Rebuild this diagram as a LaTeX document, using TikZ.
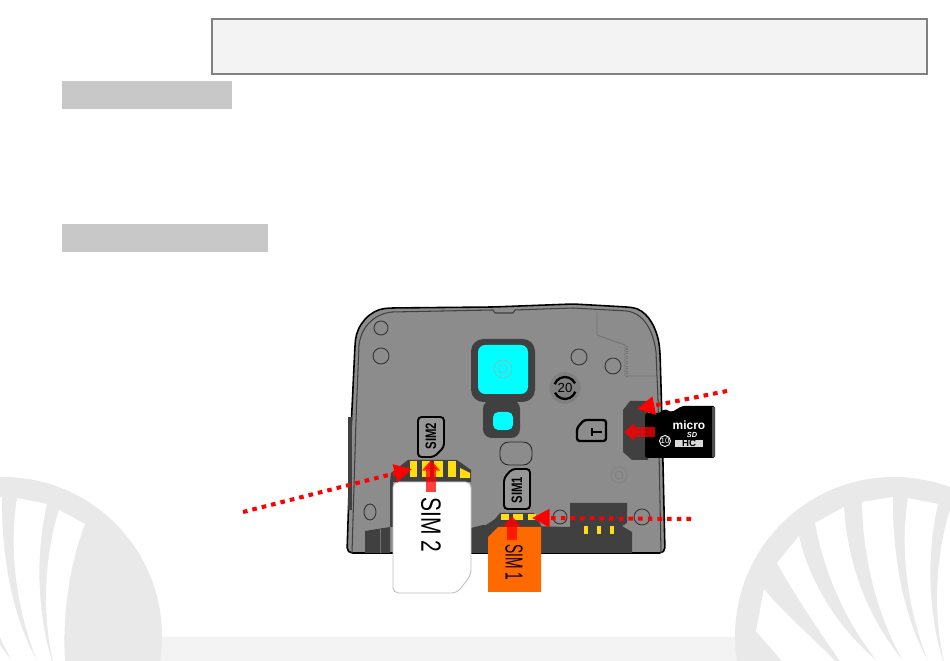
\documentclass[tikz,border=0pt]{standalone}
\usepackage{fontspec}
\setmainfont{Liberation Sans}
\usetikzlibrary{arrows.meta}
\definecolor{logogray}{HTML}{E9E9E9}
\definecolor{boxgray}{HTML}{F3F3F3}
\definecolor{bandgray}{HTML}{C8C8C8}
\definecolor{bodygray}{HTML}{8C8C8C}
\definecolor{darkgray}{HTML}{404040}
\definecolor{lensblue}{HTML}{00FFFF}
\definecolor{pinyellow}{HTML}{FFDD11}
\definecolor{simorange}{HTML}{FF6A00}
\tikzset{
    dotarrow/.style={draw=red, line width=2.3pt, dash pattern=on 2.6pt off 2.9pt,
        -{Triangle[length=10pt,width=10pt,sep=0pt]}},
    pusharrow/.style={draw=red, opacity=.75, line width=6pt,
        -{Triangle[length=6pt,width=10pt]}},
    hole/.style={draw=black!80, line width=.5pt},
    pin/.style={fill=pinyellow},
    simlabel/.style={draw=black, line width=1.1pt, rounded corners=2pt, fill=bodygray!90!white},
    vtext/.style={font=\bfseries\fontsize{8.6}{9}\selectfont, rotate=90, xscale=.75},
}
\begin{document}
\begin{tikzpicture}[x=0.02cm, y=-0.02cm]
    \useasboundingbox (0,0) rectangle (950,661);
    \clip (0,0) rectangle (950,661);

    % Page boxes
    \draw[fill=boxgray, draw=black!50, line width=1.1pt] (212,19) rectangle (927,74);
    \fill[bandgray] (62,81) rectangle (232,109);
    \fill[bandgray] (62,224) rectangle (268,252);
    \fill[boxgray] (160,637) rectangle (745,661);

    % Logo, once for each bottom corner
    \foreach \dx in {0,-891} {
        \begin{scope}[shift={(\dx,0)}]
            \fill[logogray] (894,636) circle (159);
            \fill[white] (764,589) -- (756,631) -- (782,661) -- (835,661)
                .. controls (810,635) and (785,615) .. (764,589) -- cycle;
            \fill[white] (777,563) -- (799,536) .. controls (810,585) and (840,630) .. (877,661)
                -- (840,661) .. controls (815,625) and (795,595) .. (777,563) -- cycle;
            \fill[white] (815,523) -- (844,507) .. controls (848,570) and (870,620) .. (903,661)
                -- (877,661) .. controls (845,620) and (825,575) .. (815,523) -- cycle;
            \fill[white] (862,502) -- (893,497) .. controls (892,560) and (905,620) .. (928,661)
                -- (903,661) .. controls (880,620) and (863,565) .. (862,502) -- cycle;
            \fill[white] (908,498) -- (938,504) .. controls (925,560) and (930,620) .. (943,661)
                -- (928,661) .. controls (912,620) and (898,560) .. (908,498) -- cycle;
            \fill[white] (950,510) -- (976,524) .. controls (962,560) and (953,610) .. (956,661)
                -- (944,661) .. controls (934,620) and (934,560) .. (950,510) -- cycle;
        \end{scope}
    }

    % Phone body
    \draw[fill=bodygray, draw=black, line width=.9pt, rounded corners=3pt]
        (347,553) -- (351,430) -- (355,345) .. controls (357,325) and (370,310) .. (390,308)
        -- (493,307) -- (573,304) -- (627,307) .. controls (645,309) and (657,325) .. (660,352)
        -- (662,420) -- (665,553) -- cycle;
    \draw[draw=black!75, line width=.6pt]
        (352,553) -- (356,420) -- (359,345) .. controls (361,328) and (373,314) .. (392,312)
        -- (493,310) -- (495,313) -- (513,313) -- (515,310) -- (573,308) -- (627,311)
        .. controls (642,313) and (653,328) .. (656,352) -- (658,400) -- (661,553);
    \fill[darkgray] (348,417) rectangle (352,510);
    \draw[draw=black!55, line width=.5pt] (597,313) -- (597,335) -- (625,345) -- (625,376) -- (655,376);
    \draw[draw=black!55, line width=1.2pt, dash pattern=on .6pt off .8pt] (627,346) -- (627,376);

    % Dark lower parts
    \fill[darkgray] (365,531) -- (390,527) -- (390,553) -- (365,553) -- cycle;
    \draw[draw=black!55, line width=.4pt] (380,529) -- (380,553);
    \fill[darkgray] (471,528) -- (483,525) -- (570,527) -- (570,503) -- (627,503) -- (627,523)
        -- (622,526) -- (632,532) -- (632,553) -- (471,553) -- cycle;
    \foreach \px in {584,597,610}
        \fill[pin] (\px,526) rectangle ++(4,8);

    % Holes
    \draw[hole] (381,328) circle (7);
    \draw[hole] (381,356) circle (8);
    \draw[hole] (579,357) circle (8);
    \draw[hole] (613,366) circle (8);
    \draw[hole] (370,512) circle [x radius=6, y radius=8];
    \draw[hole] (560,517) circle (7);
    \draw[hole] (642,517) circle (8);
    \draw[draw=black!50, line width=.4pt] (619,475) circle (8) (619,475) circle (4);
    \draw[draw=black!85, line width=.5pt, rounded corners=5pt] (500,442) rectangle (532,465);

    % Camera and flash
    \fill[darkgray, rounded corners=7pt] (471,339) rectangle (535,402);
    \fill[darkgray, rounded corners=5pt] (483,400) rectangle (520,438);
    \fill[lensblue, rounded corners=4pt] (478,345) rectangle (528,394);
    \fill[lensblue, rounded corners=3pt] (493,412) rectangle (513,430);
    \draw[draw=black!35, line width=.3pt] (503,369) circle (9) (503,369) circle (4);

    % Recycling badge
    \draw[fill=bodygray!110!white, draw=black!45, line width=.3pt] (565,388) circle (16);
    \draw[line width=1.3pt] (565,388) ++(20:11) arc[start angle=20, end angle=155, radius=11];
    \draw[line width=1.3pt] (565,388) ++(200:11) arc[start angle=200, end angle=335, radius=11];
    \node[font=\fontsize{7.5}{8}\selectfont, inner sep=0pt] (badge) at (565,388) {20};

    % SIM slot labels
    \draw[simlabel] (418,417) -- (444,417) -- (444,447) -- (434,457) -- (418,457) -- cycle;
    \node[vtext, inner sep=0pt] (simtwotag) at (431,436) {SIM2};
    \draw[simlabel] (512,469) -- (530,469) -- (530,509) -- (504,509) -- (504,478) -- cycle;
    \node[vtext, inner sep=0pt] (simonetag) at (517,490) {SIM1};

    % Card icon
    \draw[line width=1.3pt, rounded corners=1.5pt] (577,428) -- (584,420) -- (606,420) -- (606,441) -- (577,441) -- cycle;
    \draw[line width=1.3pt] (592,428) -- (592,436) (592,432) -- (602,432);

    % SIM contacts
    \fill[darkgray] (390,482) -- (391,473) -- (408,460) -- (457,460) -- (471,470) -- (471,482) -- cycle;
    \fill[darkgray] (390,482) rectangle (393,527);
    \foreach \px/\pw in {410/7,422/8,434/9,448/8}
        \fill[pin] (\px,461) rectangle ++(\pw,16);
    \fill[pin] (460,468) -- (470,473) -- (470,478) -- (460,478) -- cycle;
    \fill[darkgray] (483,527) -- (495,519) -- (500,513) -- (534,513) -- (542,527) -- cycle;
    \foreach \px/\pw in {501/8,513/10,528/8}
        \fill[pin] (\px,514) rectangle ++(\pw,6);

    % Cards
    \draw[fill=white, draw=black!25, line width=.5pt, rounded corners=3pt]
        (393,482) -- (471,482) -- (471,575) -- (457,593) -- (393,593) -- cycle;
    \node[font=\fontsize{15.9}{16}\selectfont, inner sep=0pt, rotate=-90, xscale=.75] (simtwo) at (431,525) {SIM 2};
    \fill[simorange] (488,537) -- (498,527) -- (541,527) -- (541,592) -- (488,592) -- cycle;
    \node[font=\fontsize{14}{15}\selectfont, inner sep=0pt, rotate=-90, xscale=.56] (simone) at (514,562) {SIM 1};

    % microSD slot and card
    \fill[darkgray] (630,401) -- (648,401) -- (648,460) -- (632,460) -- (623,452) -- (623,410) -- cycle;
    \fill[black, rounded corners=1pt] (645,413) -- (660,413) -- (664,409) -- (672,412) -- (682,406) -- (715,406)
        -- (715,458) -- (645,458) -- cycle;
    \fill[black!70] (712,407) rectangle (715,457);
    \node[text=white, font=\bfseries\fontsize{6.8}{7}\selectfont, inner sep=0pt] (micro) at (689,425) {micro};
    \node[text=white, font=\bfseries\itshape\fontsize{4.2}{4}\selectfont, inner sep=0pt] (sdmark) at (692,434.5) {SD};
    \draw[draw=white, line width=.5pt] (665,441) circle (5.5);
    \node[text=white, font=\fontsize{4.5}{5}\selectfont, inner sep=0pt] (sdclass) at (665,441) {10};
    \node[fill=black!15, text=black, font=\bfseries\fontsize{5.5}{5}\selectfont, inner sep=0pt,
        minimum width=16pt, minimum height=4.5pt] (sdhc) at (689,443.5) {HC};

    % Arrow ends
    \coordinate (sdfar) at (727,391);
    \coordinate (sdtip) at (637,409);
    \coordinate (sdback) at (655,432);
    \coordinate (sdfront) at (624,432);
    \coordinate (simtwofar) at (243,512);
    \coordinate (simtwotip) at (412,469);
    \coordinate (simtwoback) at (431,492);
    \coordinate (simtwofront) at (431,460);
    \coordinate (simonefar) at (691,519);
    \coordinate (simonetip) at (532,518);
    \coordinate (simoneback) at (512,540);
    \coordinate (simonefront) at (512,516);

    % Arrows
    \draw[dotarrow] (sdfar) -- (sdtip);
    \draw[pusharrow] (sdback) -- (sdfront);
    \draw[dotarrow] (simtwofar) -- (simtwotip);
    \draw[pusharrow] (simtwoback) -- (simtwofront);
    \draw[dotarrow] (simonefar) -- (simonetip);
    \draw[pusharrow] (simoneback) -- (simonefront);

\end{tikzpicture}
\end{document}
